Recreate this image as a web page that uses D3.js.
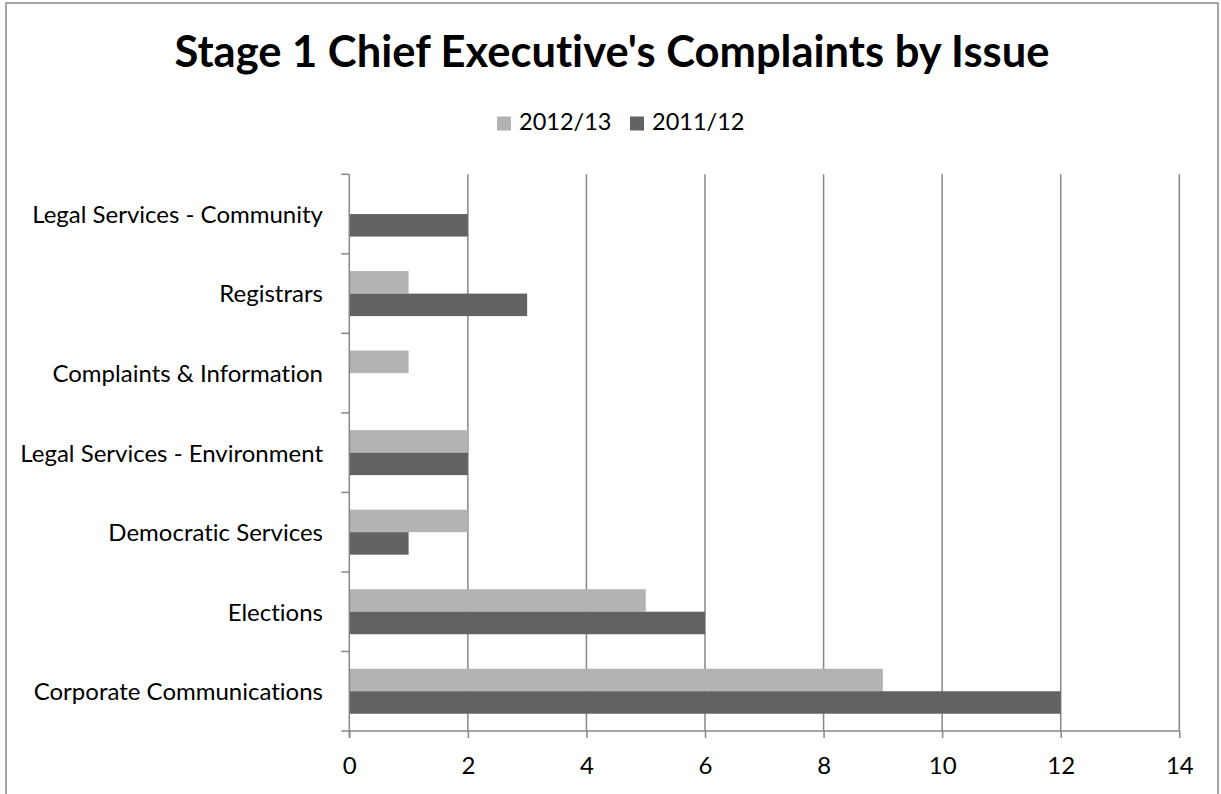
<!DOCTYPE html>
<html>
<head>
<meta charset="utf-8">
<script src="https://cdn.jsdelivr.net/npm/d3@7"></script>
<style>
  html, body { margin: 0; padding: 0; background: #fff; }
  svg { display: block; }
  text {
    font-family: Lato, "Noto Sans", sans-serif;
    fill: #000;
    font-variant-ligatures: none;
    font-feature-settings: "liga" 0, "clig" 0;
  }
</style>
</head>
<body>
<script>
// Complaint counts per issue, listed top to bottom as drawn
const categories = [
  "Legal Services - Community",
  "Registrars",
  "Complaints & Information",
  "Legal Services - Environment",
  "Democratic Services",
  "Elections",
  "Corporate Communications"
];
const seriesNames = ["2012/13", "2011/12"];
const values2012 = [0, 1, 1, 2, 2, 5, 9];
const values2011 = [2, 3, 0, 2, 1, 6, 12];
const xTicks = [0, 2, 4, 6, 8, 10, 12, 14];
const titleText = "Stage 1 Chief Executive's Complaints by Issue";

const W = 1221, H = 794;
const colors = { "2012/13": "#b3b3b3", "2011/12": "#626262" };
const lineColor = "#878787";

const plot = { left: 349.3, right: 1179.3, top: 174.3, bottom: 731 };

const svg = d3.select("body").append("svg")
  .attr("width", W).attr("height", H);

// Chart frame
svg.append("rect")
  .attr("x", 6).attr("y", 3)
  .attr("width", 1212).attr("height", H + 10)
  .attr("fill", "#fff")
  .attr("stroke", lineColor).attr("stroke-width", 1.5);

// Title
svg.append("text")
  .attr("x", 612).attr("y", 67)
  .attr("text-anchor", "middle")
  .style("font-size", "43.5px").style("font-weight", "bold")
  .text(titleText);

// Legend
const legend = svg.append("g");
const legendItems = [
  { name: seriesNames[0], x: 497 },
  { name: seriesNames[1], x: 630 }
];
legendItems.forEach(d => {
  legend.append("rect")
    .attr("x", d.x).attr("y", 116.5)
    .attr("width", 14).attr("height", 14)
    .attr("fill", colors[d.name]);
  legend.append("text")
    .attr("x", d.x + 22).attr("y", 130)
    .style("font-size", "23.5px")
    .text(d.name);
});

// Scales
const x = d3.scaleLinear()
  .domain([0, 14])
  .range([plot.left, plot.right]);

const y = d3.scaleBand()
  .domain(categories)
  .range([plot.top, plot.bottom])
  .paddingInner(0.434)
  .paddingOuter(0.217);

const ySub = d3.scaleBand()
  .domain(seriesNames)
  .range([0, y.bandwidth()]);

const step = y.step();

// Vertical gridlines
svg.append("g")
  .selectAll("line")
  .data(xTicks.filter(t => t > 0))
  .join("line")
  .attr("x1", d => x(d)).attr("x2", d => x(d))
  .attr("y1", plot.top).attr("y2", plot.bottom)
  .attr("stroke", lineColor).attr("stroke-width", 1.5);

// Bars
const rows = categories.map((c, i) => ({
  category: c,
  values: [
    { series: seriesNames[0], value: values2012[i] },
    { series: seriesNames[1], value: values2011[i] }
  ]
}));

svg.append("g")
  .selectAll("g")
  .data(rows)
  .join("g")
  .attr("transform", d => `translate(0,${y(d.category)})`)
  .selectAll("rect")
  .data(d => d.values.filter(v => v.value > 0))
  .join("rect")
  .attr("x", x(0))
  .attr("y", d => ySub(d.series))
  .attr("width", d => x(d.value) - x(0))
  .attr("height", ySub.bandwidth())
  .attr("fill", d => colors[d.series]);

// Category axis (tick marks between categories)
const yAxisG = svg.append("g");
yAxisG.append("line")
  .attr("x1", plot.left).attr("x2", plot.left)
  .attr("y1", plot.top).attr("y2", plot.bottom + 7)
  .attr("stroke", lineColor).attr("stroke-width", 1.5);
yAxisG.selectAll("line.tick")
  .data(d3.range(categories.length + 1))
  .join("line")
  .attr("class", "tick")
  .attr("x1", plot.left - 8).attr("x2", plot.left)
  .attr("y1", i => plot.top + i * step)
  .attr("y2", i => plot.top + i * step)
  .attr("stroke", lineColor).attr("stroke-width", 1.5);
yAxisG.selectAll("text")
  .data(categories)
  .join("text")
  .attr("x", 323)
  .attr("y", d => y(d) + y.bandwidth() / 2)
  .attr("dy", "0.37em")
  .attr("text-anchor", "end")
  .style("font-size", "24px")
  .text(d => d);

// Value axis
const xAxis = d3.axisBottom(x)
  .tickValues(xTicks)
  .tickSize(7)
  .tickPadding(19)
  .tickFormat(d3.format("d"));

const xAxisG = svg.append("g")
  .attr("transform", `translate(0,${plot.bottom})`)
  .call(xAxis);
xAxisG.select(".domain")
  .attr("stroke", lineColor).attr("stroke-width", 1.5)
  .attr("d", `M${plot.left},0H${plot.right}`);
xAxisG.selectAll(".tick line")
  .attr("stroke", lineColor).attr("stroke-width", 1.5);
xAxisG.selectAll(".tick text")
  .style("font-size", "24px")
  .style("font-family", "Lato, 'Noto Sans', sans-serif")
  .attr("fill", "#000");
</script>
</body>
</html>
